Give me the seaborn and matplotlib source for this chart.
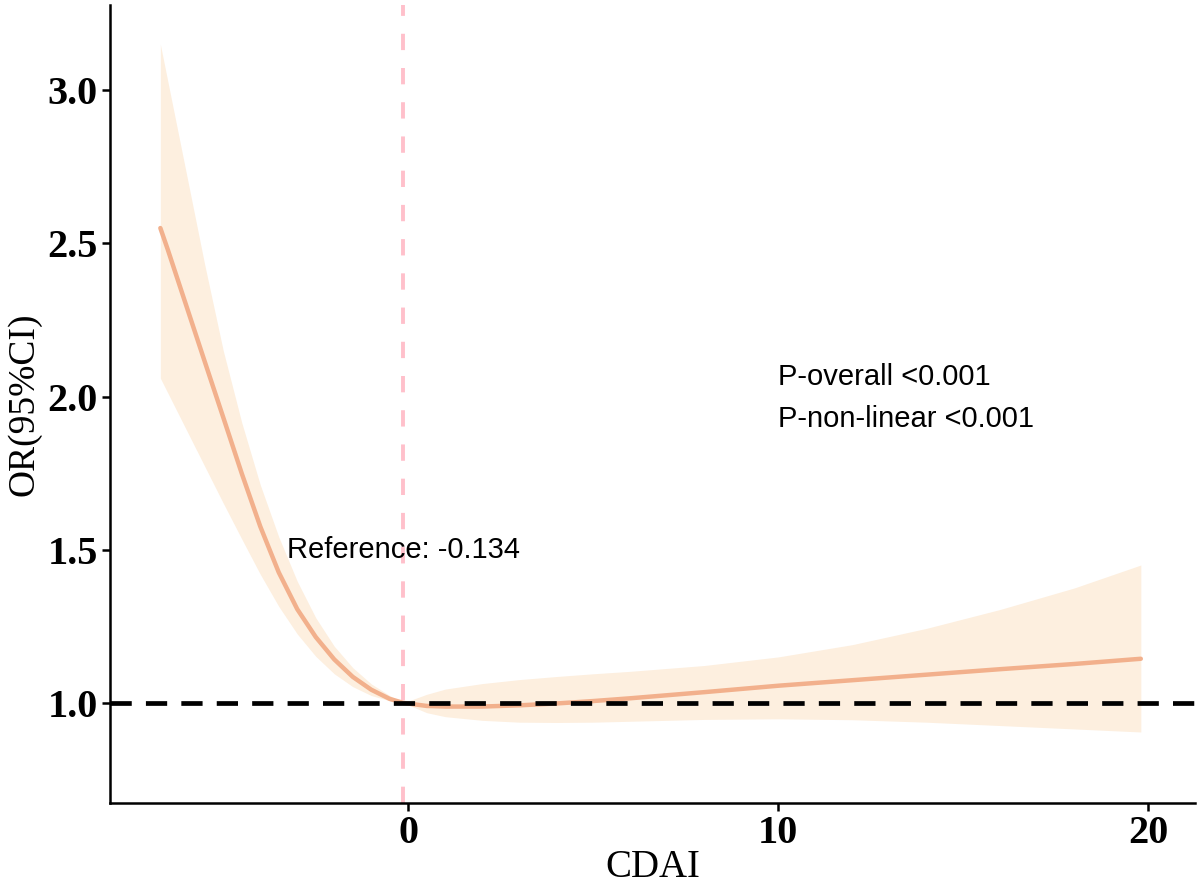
import matplotlib
import numpy as np
import pandas as pd
import matplotlib.pyplot as plt
import seaborn as sns

matplotlib.use('Agg')

cdai = [-6.7, -6.5, -6.0, -5.5, -5.0, -4.5, -4.0, -3.5, -3.0, -2.5, -2.0, -1.5, -1.0, -0.5, -0.134,
        0.5, 1.0, 2.0, 3.0, 4.0, 5.0, 6.0, 8.0, 10.0, 12.0, 14.0, 16.0, 18.0, 19.8]
or_est = [2.55, 2.48, 2.297, 2.114, 1.932, 1.749, 1.576, 1.426, 1.306, 1.215, 1.142, 1.085, 1.043, 1.013, 1.0,
          0.99, 0.988, 0.988, 0.992, 0.998, 1.006, 1.015, 1.035, 1.056, 1.074, 1.092, 1.11, 1.127, 1.144]
or_lower = [2.06, 2.012, 1.892, 1.772, 1.652, 1.535, 1.42, 1.315, 1.225, 1.152, 1.095, 1.053, 1.024, 1.007, 1.0,
            0.968, 0.955, 0.943, 0.937, 0.936, 0.937, 0.94, 0.946, 0.948, 0.945, 0.937, 0.926, 0.915, 0.905]
or_upper = [3.15, 3.03, 2.73, 2.43, 2.15, 1.915, 1.712, 1.542, 1.397, 1.278, 1.185, 1.115, 1.062, 1.024, 1.0,
            1.028, 1.045, 1.063, 1.076, 1.086, 1.095, 1.103, 1.122, 1.15, 1.19, 1.243, 1.305, 1.375, 1.45]

ref_value = -0.134
x_ticks = [0, 10, 20]
y_ticks = [1.0, 1.5, 2.0, 2.5, 3.0]


def main():
    sns.set_theme(style='white', rc={'text.color': 'black', 'axes.labelcolor': 'black'})
    df = pd.DataFrame({'CDAI': cdai, 'OR': or_est, 'lo': or_lower, 'hi': or_upper})

    fig = plt.figure(figsize=(12, 8.88), dpi=100)
    ax = fig.add_axes([0.092, 0.096, 0.904, 0.898])

    ax.fill_between(df['CDAI'], df['lo'], df['hi'], color='#FDEFDF', linewidth=0, zorder=1)
    sns.lineplot(data=df, x='CDAI', y='OR', ax=ax, color='#F2B08C', linewidth=3.2, zorder=3)

    ax.axhline(1.0, color='black', linewidth=3.4, dashes=(4.5, 3), zorder=4)
    ax.axvline(ref_value, color='#FFC0CB', linewidth=2.8, dashes=(4.2, 4.6), zorder=2)

    sans = ['Liberation Sans', 'DejaVu Sans']
    ax.text(ref_value, 1.5, 'Reference: %s' % ref_value, ha='center', va='center',
            fontsize=21, family=sans, color='black', zorder=5)
    ax.text(10.0, 2.065, 'P-overall <0.001', ha='left', va='center', fontsize=21, family=sans)
    ax.text(10.0, 1.928, 'P-non-linear <0.001', ha='left', va='center', fontsize=21, family=sans)

    ax.set_xlim(-8.05, 21.27)
    ax.set_ylim(0.674, 3.277)
    ax.set_xticks(x_ticks)
    ax.set_yticks(y_ticks)
    ax.set_yticklabels(['%.1f' % v for v in y_ticks])

    serif = ['Liberation Serif', 'DejaVu Serif']
    for lab in ax.get_xticklabels() + ax.get_yticklabels():
        lab.set_family(serif)
        lab.set_fontweight('bold')
        lab.set_fontsize(29)
    ax.set_xlabel('CDAI', family=serif, fontsize=28, labelpad=-2)
    ax.set_ylabel('OR(95%CI)', family=serif, fontsize=27, labelpad=4)

    sns.despine(ax=ax)
    for side in ['left', 'bottom']:
        ax.spines[side].set_color('black')
        ax.spines[side].set_linewidth(1.8)
    ax.tick_params(axis='both', direction='out', length=6, width=1.8, color='black',
                   bottom=True, left=True, pad=3, labelcolor='black')
    ax.grid(False)

    plt.savefig('out.png', dpi=100)


if __name__ == '__main__':
    main()
